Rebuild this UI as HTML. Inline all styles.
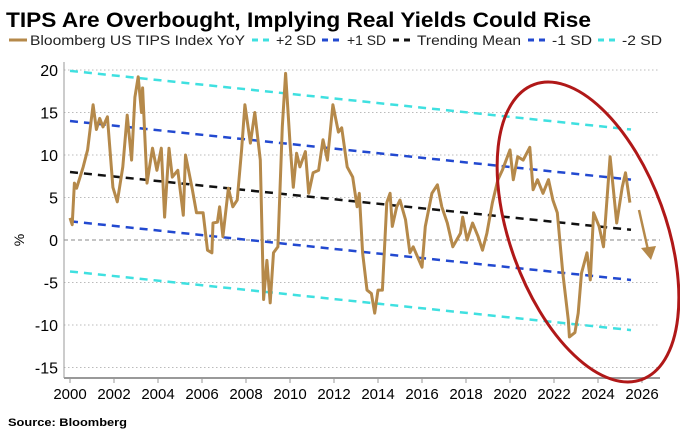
<!DOCTYPE html>
<html><head><meta charset="utf-8"><style>
body{margin:0;background:#fff;width:680px;height:435px;overflow:hidden}
svg{display:block;font-family:"Liberation Sans",sans-serif}
</style></head><body>
<svg id="c" width="680" height="435">
<text x="6" y="27" font-size="21" font-weight="bold" textLength="585" lengthAdjust="spacingAndGlyphs">TIPS Are Overbought, Implying Real Yields Could Rise</text>
<g id="legend"></g>
<g id="grid"></g><g id="bands"></g><g id="series"></g><g id="axes"></g>
<text x="8" y="426" font-size="11" font-weight="bold" textLength="119" lengthAdjust="spacingAndGlyphs">Source: Bloomberg</text>
<text transform="translate(24,240) rotate(-90)" font-size="14" text-anchor="middle">%</text>
<ellipse cx="588" cy="232" rx="78" ry="157" transform="rotate(-20 588 232)" fill="none" stroke="#b01818" stroke-width="3"/>
<g><line x1="639" y1="210" x2="648" y2="250" stroke="#b5894a" stroke-width="2.5"/><polygon points="641,248 656,246 651,260" fill="#b5894a"/></g>
</svg>
<script>
const years=[2000.0,2000.1,2000.2,2000.3,2000.6,2000.8,2001.05,2001.2,2001.35,2001.5,2001.7,2001.95,2002.15,2002.4,2002.6,2002.8,2002.95,2003.1,2003.25,2003.3,2003.5,2003.75,2003.95,2004.15,2004.3,2004.5,2004.65,2004.9,2005.15,2005.25,2005.55,2005.75,2006.05,2006.25,2006.45,2006.5,2006.7,2006.8,2006.95,2007.2,2007.4,2007.6,2007.8,2007.95,2008.2,2008.4,2008.65,2008.8,2008.95,2009.1,2009.25,2009.45,2009.65,2009.8,2010.0,2010.15,2010.3,2010.45,2010.7,2010.85,2011.05,2011.3,2011.5,2011.7,2011.95,2012.2,2012.35,2012.6,2012.85,2013.05,2013.15,2013.3,2013.5,2013.7,2013.85,2014.0,2014.2,2014.4,2014.55,2014.65,2014.85,2015.0,2015.25,2015.45,2015.6,2016.0,2016.15,2016.45,2016.7,2016.9,2017.15,2017.4,2017.75,2017.85,2018.05,2018.3,2018.55,2018.75,2018.95,2019.2,2019.45,2019.65,2020.0,2020.15,2020.35,2020.6,2020.9,2021.05,2021.25,2021.5,2021.75,2021.95,2022.15,2022.4,2022.65,2022.7,2022.95,2023.1,2023.25,2023.5,2023.65,2023.8,2024.05,2024.25,2024.55,2024.85,2025.1,2025.25,2025.45];
const tipsYoY=[2.6,1.8,6.7,6.1,8.6,10.6,15.9,13,14.3,13.3,14.5,6.2,4.5,8.6,14.7,9.4,16.8,19.2,15,17.9,6.7,10.8,8.2,10.8,2.7,10.8,7.4,8.2,2.9,10,6.1,3.2,3.2,-1.2,-1.5,2,2.1,3.9,0.4,6.1,3.9,4.7,10.6,15.9,11.4,15,9.4,-7,-2.4,-7.4,-1.5,-0.8,13.3,19.6,11.4,6.2,10.2,8.6,10.4,5.5,7.9,8.2,11.8,9.4,15.9,12.7,13.2,8.6,7.4,3.9,5.5,-1.5,-5.9,-6.3,-8.6,-5.9,-5.9,4.4,5.5,1.6,3.9,4.7,2.4,-1.5,-0.8,-3.2,1.6,5.5,6.5,3.9,2,-0.8,0.8,2.7,0,2,0.4,-1.2,0.8,4.4,7.1,8.2,10.6,7.1,9.8,9.4,10.9,5.9,7.1,5.5,7.1,4.7,3.2,-3.9,-9.4,-11.4,-10.9,-8.6,-3.9,-1.5,-4.7,3.2,1.6,-0.8,9.8,2,6.2,7.9,4.4];
const bandNames=["+2 SD","+1 SD","Trending Mean","-1 SD","-2 SD"];
const bandStart=[19.9,14.0,8.0,2.2,-3.7];
const bandEnd=[13.0,7.1,1.2,-4.7,-10.6];
const bandRange=[2000,2025.5];
const yTicks=[20,15,10,5,0,-5,-10,-15];
const xTicks=[2000,2002,2004,2006,2008,2010,2012,2014,2016,2018,2020,2022,2024,2026];
const NS="http://www.w3.org/2000/svg";
const X=y=>70+(y-2000)*22, Y=v=>240-v*8.5;
function mk(t,a,p){const e=document.createElementNS(NS,t);for(const k in a)e.setAttribute(k,a[k]);p.appendChild(e);return e;}
const grid=document.getElementById('grid'),axes=document.getElementById('axes'),bands=document.getElementById('bands'),ser=document.getElementById('series'),lg=document.getElementById('legend');
yTicks.forEach(v=>{
 const l=mk('line',{x1:64,x2:660,y1:Y(v),y2:Y(v),stroke:v===0?'#888':'#bbb','stroke-width':1,'stroke-dasharray':v===0?'4,3':'1.5,2.5'},grid);
 
 
 const t=mk('text',{x:58,y:Y(v)+6,'font-size':16,'text-anchor':'end'},axes);t.textContent=v;
 
 
});
mk('line',{x1:64,x2:64,y1:62,y2:378,stroke:'#999'},axes);
mk('line',{x1:64,x2:660,y1:378,y2:378,stroke:'#999','stroke-width':2},axes);
xTicks.forEach(y=>{
 mk('line',{x1:X(y),x2:X(y),y1:378,y2:383,stroke:'#999'},axes);
 const t=mk('text',{x:X(y),y:399,'font-size':15,'text-anchor':'middle'},axes);t.textContent=y;
 
 
});
const bandCol=['#3fe0e0','#2249d0','#111','#2249d0','#3fe0e0'];
bandNames.forEach((n,i)=>{
 const l=mk('line',{x1:X(bandRange[0]),y1:Y(bandStart[i]),x2:X(bandRange[1]),y2:Y(bandEnd[i]),stroke:bandCol[i],'stroke-width':2.5,'stroke-dasharray':'8,6'},bands);
 
 
});
const p=mk('path',{d:years.map((y,i)=>(i?'L':'M')+X(y).toFixed(1)+','+Y(tipsYoY[i]).toFixed(1)).join(''),fill:'none',stroke:'#b5894a','stroke-width':3,'stroke-linejoin':'round'},ser);


const items=[['Bloomberg US TIPS Index YoY','#b5894a',0],['+2 SD','#3fe0e0',1],['+1 SD','#2249d0',1],['Trending Mean','#111',1],['-1 SD','#2249d0',1],['-2 SD','#3fe0e0',1]];
const lx=[9,252,322,393,528,598],tx=[30,276,347,417,552,622],lw=[215,40,39,104,40,40];
items.forEach((it,i)=>{
 const g=mk('g',{},lg);
 
 
 mk('line',{x1:lx[i],x2:lx[i]+18,y1:40,y2:40,stroke:it[1],'stroke-width':3,'stroke-dasharray':it[2]?'6,5':'none'},g);
 const t=mk('text',{x:tx[i],y:45,'font-size':14,fill:'#222',textLength:lw[i],lengthAdjust:'spacingAndGlyphs'},g);t.textContent=it[0];
});
</script>
</body></html>
